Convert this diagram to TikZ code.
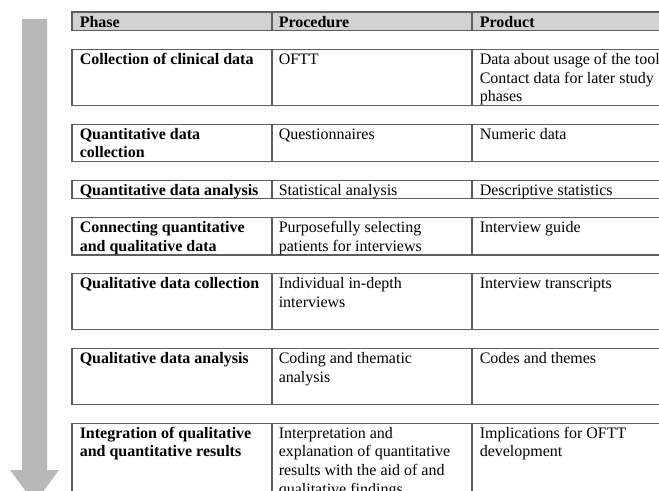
\documentclass[tikz,border=0pt]{standalone}
\usepackage{fontspec}
\setmainfont{Liberation Serif}
\definecolor{arrowgray}{HTML}{B8B8B8}
\definecolor{headgray}{HTML}{D2D2D2}
\definecolor{linegray}{HTML}{5E5E5E}
\tikzset{
  cellline/.style={draw=linegray,line width=0.8pt},
  celltext/.style={anchor=north west,inner sep=0pt,align=left,
     font=\fontsize{12pt}{14.01pt}\selectfont},
  headtext/.style={celltext,font=\fontsize{12pt}{14.01pt}\selectfont\bfseries},
}
\newcommand\tabrow[7]{%
  \draw[cellline] (72,#2) rectangle (700,#2+#3);
  \draw[cellline] (272,#2) -- (272,#2+#3) (472,#2) -- (472,#2+#3);
  \node[headtext] (#1a) at (79.5,#2) {\rule{0pt}{11.1pt}#4};
  \node[celltext] (#1b) at (278.5,#2) {\rule{0pt}{11.1pt}#5};
  \node[celltext] (#1c) at (479.5,#2) {\rule{0pt}{11.1pt}#6};
}
\begin{document}
\begin{tikzpicture}[x=0.75pt,y=-0.75pt]
\useasboundingbox (0,0) rectangle (659,491);
\clip (0,0) rectangle (659,491);
% downward arrow
\fill[arrowgray] (22,19) -- (47,19) -- (47,470) -- (59,470) -- (34.5,503)
   -- (10,470) -- (22,470) -- cycle;
% header
\fill[headgray] (72,12) rectangle (700,30.7);
\draw[cellline] (72,12) rectangle (700,30.7);
\draw[cellline] (272,12) -- (272,30.7) (472,12) -- (472,30.7);
\node[headtext] (h1) at (79.5,12) {\rule{0pt}{11.1pt}Phase};
\node[headtext] (h2) at (278.5,12) {\rule{0pt}{11.1pt}Procedure};
\node[headtext] (h3) at (479.5,12) {\rule{0pt}{11.1pt}Product};
% rows
\tabrow{r1}{49.4}{56}{Collection of clinical data}{OFTT}{Data about usage of the tool\\Contact data for later study\\phases}{}
\tabrow{r2}{124.1}{37.4}{Quantitative data\\collection}{Questionnaires}{Numeric data}{}
\tabrow{r3}{180.2}{18.7}{Quantitative data analysis}{Statistical analysis}{Descriptive statistics}{}
\tabrow{r4}{217.6}{37.4}{Connecting quantitative\\and qualitative data}{Purposefully selecting\\patients for interviews}{Interview guide}{}
\tabrow{r5}{273.6}{56}{Qualitative data collection}{Individual in-depth\\interviews}{Interview transcripts}{}
\tabrow{r6}{348.4}{56}{Qualitative data analysis}{Coding and thematic\\analysis}{Codes and themes}{}
\tabrow{r7}{423.1}{100}{Integration of qualitative\\and quantitative results}{Interpretation and\\explanation of quantitative\\results with the aid of and\\qualitative findings}{Implications for OFTT\\development}{}
\end{tikzpicture}
\end{document}
